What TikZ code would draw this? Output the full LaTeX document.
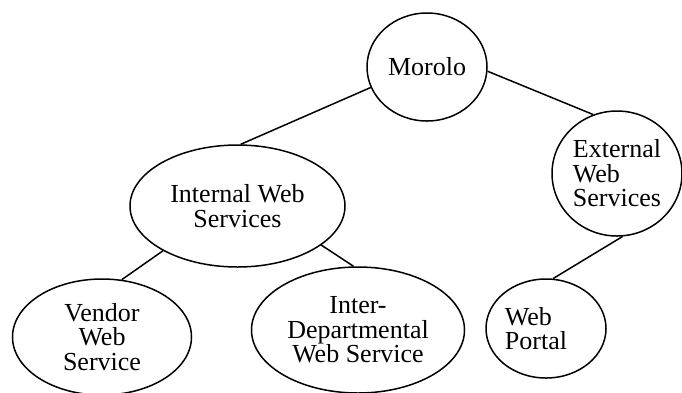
\documentclass[tikz,border=0pt]{standalone}
\usepackage{fontspec}
\setmainfont{Liberation Serif}
\usetikzlibrary{shapes.geometric}

\begin{document}
\begin{tikzpicture}[x=1pt,y=-1pt,unit/.style={ellipse,draw,line width=1.5pt,fill=white,inner sep=0pt},tag/.style={font=\fontsize{26}{24.5}\selectfont,align=center},link/.style={line width=1.5pt}]
\useasboundingbox (0,0) rectangle (682,392);
\coordinate (M) at (427,67);
\coordinate (E) at (617,173.5);
\coordinate (I) at (237.5,206);
\coordinate (V) at (102,337);
\coordinate (D) at (358,330);
\coordinate (P) at (546,328.5);
\node[unit,minimum width=120pt,minimum height=108pt] (morolo) at (M) {};
\node[tag] (morolotext) at (M) {Morolo};
\node[unit,minimum width=130pt,minimum height=125pt] (external) at (E) {};
\node[tag,align=left] (externaltext) at (E) {External\\Web\\Services};
\node[unit,minimum width=215pt,minimum height=122pt] (internal) at (I) {};
\node[tag] (internaltext) at (I) {Internal Web\\Services};
\node[unit,minimum width=179pt,minimum height=116pt] (vendor) at (V) {};
\node[tag] (vendortext) at (V) {Vendor\\Web\\Service};
\node[unit,minimum width=213pt,minimum height=126pt] (interdept) at (D) {};
\node[tag] (interdepttext) at (D) {Inter-\\Departmental\\Web Service};
\node[unit,minimum width=120pt,minimum height=99pt] (portal) at (P) {};
\node[tag,align=left,xshift=-10pt] (portaltext) at (P) {Web\\Portal};
\draw[link] (morolo.-4) -- (external.112);
\draw[link] (morolo.200) -- (internal.87);
\draw[link] (internal.211) -- (vendor.71);
\draw[link] (internal.335) -- (interdept.94);
\draw[link] (external.275) -- (portal.82);
\end{tikzpicture}
\end{document}
